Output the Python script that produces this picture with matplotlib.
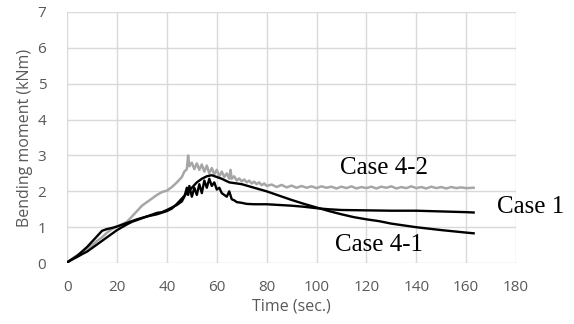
import matplotlib
matplotlib.use('Agg')
import matplotlib.pyplot as plt

# Case 4-2 (grey)
t_42 = [0, 2, 4, 6, 8, 10, 12, 14, 16, 18, 20, 22, 24, 26, 28, 30, 32, 34, 36, 38, 40,
        42, 44, 46, 47, 48, 48.5, 49, 50, 51, 52, 53, 54, 55, 56, 57, 58, 59, 60, 61,
        62, 63, 64, 65, 65.5, 66, 67, 68, 69, 70, 71, 72, 73, 74, 75, 76, 77, 78, 79,
        80, 82, 84, 86, 88, 90, 92, 94, 96, 98, 100, 102, 104, 106, 108, 110, 112, 114,
        116, 118, 120, 122, 124, 126, 128, 130, 132, 134, 136, 138, 140, 142, 144, 146,
        148, 150, 152, 154, 156, 158, 160, 163]
v_42 = [0.02, 0.12, 0.22, 0.3, 0.4, 0.5, 0.62, 0.72, 0.85, 0.95, 1.02, 1.08, 1.15, 1.3,
        1.45, 1.6, 1.7, 1.8, 1.9, 1.98, 2.02, 2.12, 2.25, 2.4, 2.55, 2.62, 3.0, 2.7, 2.8,
        2.62, 2.78, 2.6, 2.75, 2.55, 2.72, 2.5, 2.65, 2.48, 2.6, 2.42, 2.55, 2.4, 2.5,
        2.35, 2.6, 2.35, 2.42, 2.3, 2.36, 2.28, 2.33, 2.25, 2.3, 2.22, 2.27, 2.2, 2.25,
        2.17, 2.22, 2.15, 2.19, 2.12, 2.18, 2.11, 2.16, 2.1, 2.15, 2.1, 2.14, 2.09, 2.14,
        2.1, 2.13, 2.08, 2.13, 2.09, 2.14, 2.08, 2.12, 2.09, 2.13, 2.08, 2.13, 2.1, 2.14,
        2.08, 2.12, 2.09, 2.14, 2.09, 2.12, 2.08, 2.13, 2.09, 2.12, 2.08, 2.12, 2.09, 2.11,
        2.09, 2.1]

# Case 1 (black, jagged peak)
t_1 = [0, 2, 4, 6, 8, 10, 12, 14, 16, 18, 20, 22, 24, 26, 28, 30, 32, 34, 36, 38, 40,
       42, 44, 46, 47, 48, 48.5, 49, 50, 51, 52, 53, 54, 55, 56, 57, 58, 59, 60, 61, 62,
       63, 64, 65, 66, 67, 68, 70, 72, 75, 80, 85, 90, 95, 100, 105, 110, 120, 130,
       140, 150, 160, 163]
v_1 = [0.02, 0.1, 0.17, 0.25, 0.32, 0.42, 0.52, 0.62, 0.72, 0.82, 0.92, 1.0, 1.08,
       1.15, 1.2, 1.25, 1.3, 1.35, 1.4, 1.42, 1.48, 1.55, 1.62, 1.72, 1.85, 2.1, 1.9,
       2.15, 1.85, 2.1, 1.9, 2.2, 1.95, 2.3, 2.1, 2.35, 2.15, 2.25, 2.05, 2.1, 1.95,
       1.9, 1.85, 2.0, 1.78, 1.75, 1.7, 1.68, 1.65, 1.64, 1.64, 1.62, 1.6, 1.57, 1.53,
       1.5, 1.48, 1.47, 1.46, 1.46, 1.44, 1.42, 1.41]

# Case 4-1 (black, smooth decay)
t_41 = [0, 4, 8, 10, 12, 14, 16, 18, 20, 24, 28, 32, 36, 40, 42, 44, 46, 48, 50, 52,
        54, 56, 58, 60, 62, 65, 70, 75, 80, 85, 90, 95, 100, 105, 110, 115, 120, 125,
        130, 140, 150, 160, 163]
v_41 = [0.02, 0.2, 0.45, 0.6, 0.75, 0.9, 0.95, 0.98, 1.02, 1.12, 1.22, 1.3, 1.36, 1.45,
        1.52, 1.65, 1.8, 1.95, 2.1, 2.25, 2.35, 2.42, 2.45, 2.4, 2.35, 2.25, 2.2, 2.1,
        2.0, 1.88, 1.76, 1.65, 1.55, 1.45, 1.36, 1.28, 1.22, 1.17, 1.1, 1.0, 0.92, 0.85,
        0.83]

x_ticks = [0, 20, 40, 60, 80, 100, 120, 140, 160, 180]
y_ticks = [0, 1, 2, 3, 4, 5, 6, 7]

plt.rcParams['font.family'] = ['Open Sans', 'DejaVu Sans']

fig = plt.figure(figsize=(5.74, 3.24), dpi=100)
ax = fig.add_axes([0.117, 0.188, 0.782, 0.775])

ax.plot(t_42, v_42, color='#a6a6a6', lw=1.8)
ax.plot(t_1, v_1, color='black', lw=1.7)
ax.plot(t_41, v_41, color='black', lw=1.7)

ax.set_xlim(0, 180)
ax.set_ylim(0, 7)
ax.set_xticks(x_ticks)
ax.set_yticks(y_ticks)
ax.grid(True, color='#d9d9d9', lw=1)
ax.set_axisbelow(True)
for s in ax.spines.values():
    s.set_visible(False)
ax.tick_params(length=0, colors='#595959', labelsize=11)
ax.tick_params(axis='x', pad=12)
ax.tick_params(axis='y', pad=15)
ax.set_xlabel('Time (sec.)', color='#595959', fontsize=11.5, labelpad=3)
ax.set_ylabel('Bending moment (kNm)', color='#595959', fontsize=11.5, labelpad=3)

serif = ['Liberation Serif', 'DejaVu Serif']
ax.text(109.6, 2.65, 'Case 4-2', family=serif, fontsize=18, va='center')
ax.text(172.3, 1.56, 'Case 1', family=serif, fontsize=18, va='center')
ax.text(107.6, 0.5, 'Case 4-1', family=serif, fontsize=18, va='center')

plt.savefig('out.png', dpi=100)
